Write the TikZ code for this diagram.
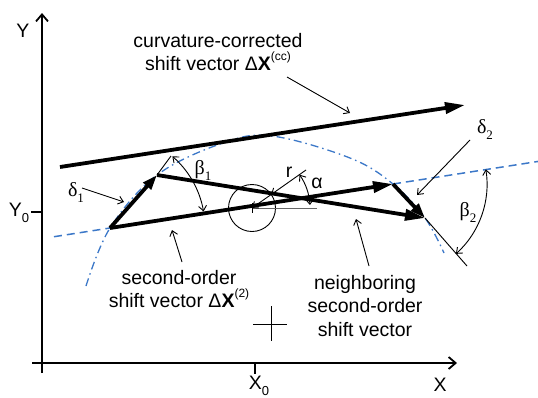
\documentclass[tikz,border=0pt]{standalone}
\usepackage{fontspec}
\setmainfont{Liberation Sans}
\newfontfamily\grk{Liberation Serif}
\usetikzlibrary{arrows.meta,calc}
\definecolor{curveblue}{RGB}{60,120,200}
\newcommand{\mysub}[1]{\raisebox{-0.3em}{\fontsize{13}{13}\selectfont #1}}
\newcommand{\mysup}[1]{\raisebox{0.5em}{\fontsize{12}{12}\selectfont #1}}
\begin{document}
\begin{tikzpicture}[x=1pt,y=-1pt,
  lbl/.style={font=\fontsize{19.5}{23.5}\selectfont, inner sep=0pt, align=center},
  glbl/.style={font=\fontsize{20}{22}\selectfont\grk, inner sep=0pt},
  vec/.style={line width=3.8pt, -{Triangle[length=20pt,width=11pt]}},
  svec/.style={line width=3.8pt, -{Triangle[length=15pt,width=10pt]}},
  pointer/.style={line width=0.9pt, -{Straight Barb[length=5pt,width=8pt]}},
  dbl/.style={line width=0.9pt, {Straight Barb[length=5pt,width=8pt]}-{Straight Barb[length=5pt,width=8pt]}},
  axis/.style={line width=1.8pt, -{Straight Barb[length=7pt,width=12pt]}},
  thinl/.style={line width=0.9pt},
  dashline/.style={curveblue, line width=1.5pt, dash pattern=on 8pt off 5pt},
  dotline/.style={curveblue, line width=1.3pt, dash pattern=on 8pt off 4pt on 1.5pt off 4pt},
]
\useasboundingbox (0,0) rectangle (538,397);
% key points
\coordinate (A) at (110,228);
\coordinate (B) at (157,175);
\coordinate (D) at (393,184);
\coordinate (E) at (425,218);
\coordinate (C) at (252,208);
% axes
\coordinate (ybot) at (42,373);
\coordinate (ytop) at (42,13);
\coordinate (xl) at (32,363);
\coordinate (xr) at (457,363);
\draw[axis] (ybot) -- (ytop);
\draw[axis] (xl) -- (xr);
\coordinate (y0a) at (31,212);
\coordinate (y0b) at (42,212);
\draw[line width=1.8pt] (y0a) -- (y0b);
\coordinate (x0a) at (255,363);
\coordinate (x0b) at (255,374);
\draw[line width=1.8pt] (x0a) -- (x0b);
\node[lbl] (ylab) at (23,31) {Y};
\node[lbl] (y0lab) at (19,213) {Y\mysub{0}};
\node[lbl] (x0lab) at (259,386) {X\mysub{0}};
\node[lbl] (xlab) at (440,385) {X};
% curve and dashed line
\draw[dotline] plot[smooth, tension=0.6] coordinates {(86,286) (110,228) (157,175) (223,143) (272,136) (350,158) (393,184) (425,218) (444,253)};
\draw[dashline] ($(A)!-0.198!(D)$) -- (A);
\draw[dashline] (D) -- ($(A)!1.512!(D)$);
% thin tangent extensions
\coordinate (Bt) at (171,156);
\coordinate (Et) at (467,266);
\draw[thinl] (B) -- (Bt);
\draw[thinl] (E) -- (Et);
% circle
\draw[thinl] (C) circle (23.5);
\coordinate (hr) at (317,208);
\draw[thinl, black!60] (C) -- (hr);
\coordinate (ct1) at (252,203);
\coordinate (ct2) at (252,213);
\draw[thinl] (ct1) -- (ct2);
% thick vectors
\coordinate (ccs) at (60,167);
\coordinate (cce) at (465,105);
\draw[vec] (ccs) -- (cce);
\draw[svec] (A) -- (B);
\draw[vec] (B) -- (E);
\draw[vec] (A) -- (D);
\draw[svec] (D) -- (E);
% r and alpha
\coordinate (rend) at (306,170);
\coordinate (rc) at (271.2,194.5);
\draw[pointer] (rend) -- (rc);
\draw[pointer] (rc) -- (C);
\draw[dbl] ($(C)+(-35:58)$) arc[start angle=-35, end angle=-3, radius=58];
\node[lbl] (rlab) at (289,172) {r};
\node[lbl] (alab) at (317,183) {α};
% beta arcs
\draw[dbl] ($(A)+(-49:95)$) arc[start angle=-49, end angle=-10, radius=95];
\draw[dbl] ($(D)+(-9:94)$) arc[start angle=-9, end angle=48, radius=94];
\node[glbl] (b1) at (203,170) {β\mysub{1}};
\node[glbl] (b2) at (468,212) {β\mysub{2}};
\node[glbl] (d1) at (76,193) {δ\mysub{1}};
\node[glbl] (d2) at (485,130) {δ\mysub{2}};
% text labels
\node[lbl] (cc) at (218,52) {curvature-corrected\\shift vector Δ\textbf{X}\mysup{(cc)}};
\node[lbl] (so) at (179,289) {second-order\\shift vector Δ\textbf{X}\mysup{(2)}};
\node[lbl] (nb) at (365,306) {neighboring\\second-order\\shift vector};
% pointers
\coordinate (p1a) at (287,77);  \coordinate (p1b) at (350,113);
\coordinate (p2a) at (82,188);  \coordinate (p2b) at (124,202);
\coordinate (p3a) at (470,140); \coordinate (p3b) at (417,195);
\coordinate (p4a) at (182,262); \coordinate (p4b) at (172,230);
\coordinate (p5a) at (369,266); \coordinate (p5b) at (356,219);
\draw[pointer] (p1a) -- (p1b);
\draw[pointer] (p2a) -- (p2b);
\draw[pointer] (p3a) -- (p3b);
\draw[pointer] (p4a) -- (p4b);
\draw[pointer] (p5a) -- (p5b);
% cross
\coordinate (cxl) at (253,324); \coordinate (cxr) at (287,324);
\coordinate (cyt) at (271,306); \coordinate (cyb) at (271,341);
\draw[thinl] (cxl) -- (cxr);
\draw[thinl] (cyt) -- (cyb);
\end{tikzpicture}
\end{document}
